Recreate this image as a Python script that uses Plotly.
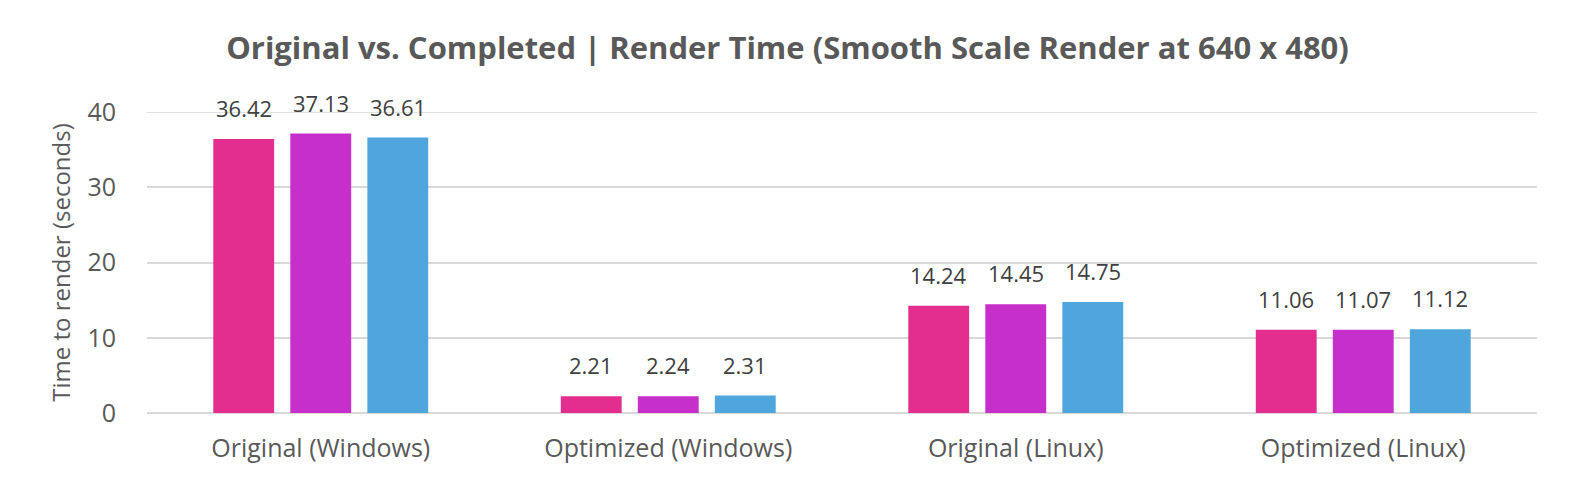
import plotly.graph_objects as go

categories = ["Original (Windows)", "Optimized (Windows)", "Original (Linux)", "Optimized (Linux)"]
run1 = [36.42, 2.21, 14.24, 11.06]
run2 = [37.13, 2.24, 14.45, 11.07]
run3 = [36.61, 2.31, 14.75, 11.12]
series = [("Run 1", run1, "#E32D8F"), ("Run 2", run2, "#C62FCA"), ("Run 3", run3, "#4FA6DC")]
y_ticks = [0, 10, 20, 30, 40]

# page body has an 8px default margin; size the figure so it fits the window
W, H = 1559, 472
ML, MR, MT, MB = 139, 30, 104, 67
BARGAP, GROUPGAP = 0.335, 0.21

fig = go.Figure()
for name, vals, col in series:
    fig.add_trace(go.Bar(
        x=categories, y=vals, name=name, marker=dict(color=col, line=dict(width=0)),
    ))

# data labels: placed above each bar, offset by the group slot width in pixels
cat_px = (W - ML - MR) / len(categories)
slot_px = cat_px * (1 - BARGAP) / len(series)
for j, (name, vals, col) in enumerate(series):
    shift = (j - (len(series) - 1) / 2) * slot_px
    for c, v in zip(categories, vals):
        fig.add_annotation(x=c, y=v, text=f"{v:.2f}", showarrow=False,
                           xshift=shift, yshift=31, yanchor="middle",
                           font=dict(family="Open Sans", size=22, color="#404040"))

# top gridline at the end of the range (drawn on the plot edge)
fig.add_shape(type="line", xref="paper", yref="y", x0=0, x1=1, y0=y_ticks[-1], y1=y_ticks[-1],
              line=dict(color="#D9D9D9", width=1.5), layer="below")

fig.update_layout(
    width=W, height=H,
    paper_bgcolor="white", plot_bgcolor="white",
    barmode="group", bargap=BARGAP, bargroupgap=GROUPGAP,
    showlegend=False,
    margin=dict(l=ML, r=MR, t=MT, b=MB, autoexpand=False),
    title=dict(text="<b>Original vs. Completed | Render Time (Smooth Scale Render at 640 x 480)</b>",
               x=0.5, xanchor="center", y=1 - 40 / H, yanchor="middle",
               font=dict(family="Open Sans", size=31, color="#595959")),
)
fig.update_yaxes(
    range=[0, 40], tickvals=y_ticks, showgrid=True, gridcolor="#D9D9D9", gridwidth=1.5,
    zeroline=True, zerolinecolor="#D9D9D9", zerolinewidth=1.5,
    tickfont=dict(family="Open Sans", size=25, color="#595959"),
    ticklabelstandoff=30,
    title=dict(text="Time to render (seconds)", font=dict(family="Open Sans", size=24, color="#595959"), standoff=10),
)
fig.update_xaxes(
    tickfont=dict(family="Open Sans", size=25, color="#595959"),
    showline=False, ticks="", ticklabelstandoff=18,
)
fig.write_html("out.html")
